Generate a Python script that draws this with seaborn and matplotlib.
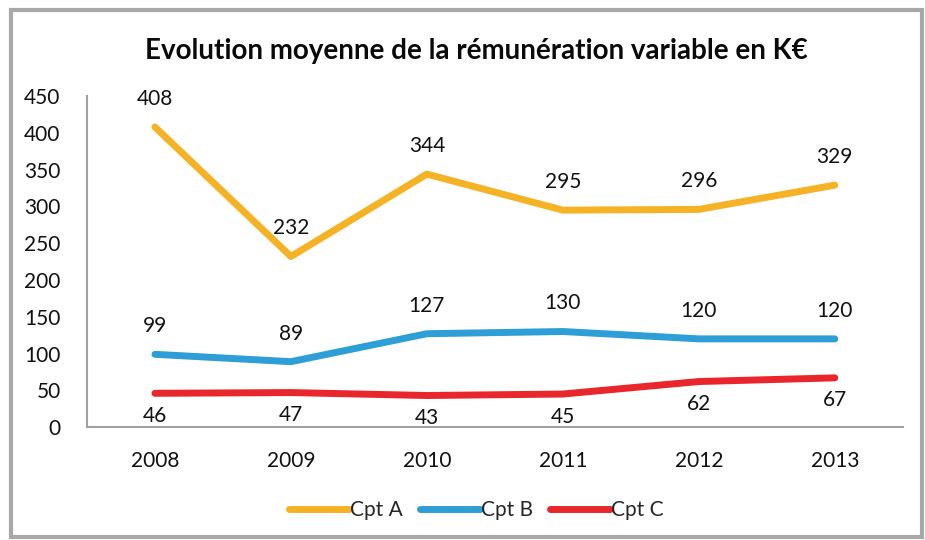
import matplotlib
matplotlib.use('Agg')
import matplotlib.pyplot as plt
import pandas as pd
import seaborn as sns
from matplotlib.patches import Rectangle

# Data
years = ['2008', '2009', '2010', '2011', '2012', '2013']
cpt_a = [408, 232, 344, 295, 296, 329]
cpt_b = [99, 89, 127, 130, 120, 120]
cpt_c = [46, 47, 43, 45, 62, 67]
series_names = ['Cpt A', 'Cpt B', 'Cpt C']
title = 'Evolution moyenne de la rémunération variable en K€'

colors = {'Cpt A': '#F5B224', 'Cpt B': '#2E9ED6', 'Cpt C': '#E8262B'}
label_side = {'Cpt A': 'above', 'Cpt B': 'above', 'Cpt C': 'below'}

df = pd.DataFrame({'year': years * 3,
                   'value': cpt_a + cpt_b + cpt_c,
                   'serie': [s for s in series_names for _ in years]})

sns.set_theme(style='white')
plt.rcParams['font.family'] = ['Lato', 'DejaVu Sans']

fig = plt.figure(figsize=(9.25, 5.4), dpi=100)
ax = fig.add_axes([0.094, 0.209, 0.882, 0.613])

# outer chart frame
fig.patches.append(Rectangle((0.012, 0.006), 0.985, 0.976, transform=fig.transFigure,
                             fill=False, edgecolor='#A8A8A8', linewidth=3))

sns.lineplot(data=df, x='year', y='value', hue='serie', palette=colors,
             linewidth=5, ax=ax, sort=False, legend=True)
for line in ax.lines:
    line.set_solid_capstyle('round')
    line.set_solid_joinstyle('round')

# data labels
for name, vals in zip(series_names, [cpt_a, cpt_b, cpt_c]):
    for i, v in enumerate(vals):
        if label_side[name] == 'above':
            ax.annotate(str(v), (i, v), xytext=(0, 13), textcoords='offset points',
                        ha='center', va='bottom', fontsize=15, color='#111111')
        else:
            ax.annotate(str(v), (i, v), xytext=(0, -9), textcoords='offset points',
                        ha='center', va='top', fontsize=15, color='#111111')

ax.set_xlim(-0.5, 5.5)
ax.set_ylim(0, 450)
ax.set_yticks(range(0, 451, 50))
ax.set_xlabel('')
ax.set_ylabel('')
ax.tick_params(axis='both', labelsize=15, colors='#111111', length=0)
ax.tick_params(axis='x', pad=17)
ax.tick_params(axis='y', pad=19)

for side in ['top', 'right']:
    ax.spines[side].set_visible(False)
for side in ['left', 'bottom']:
    ax.spines[side].set_color('#A0A0A0')
    ax.spines[side].set_linewidth(1.5)

fig.text(0.515, 0.905, title, ha='center', va='center', fontsize=20, fontweight='bold',
         color='#0A0A0A')

handles, labels = ax.get_legend_handles_labels()
ax.legend(handles, labels, loc='center', bbox_to_anchor=(0.515, 0.055),
          bbox_transform=fig.transFigure, ncol=3, frameon=False, fontsize=15,
          handlelength=2.9, handletextpad=0.05, columnspacing=0.8)

fig.savefig('out.png', dpi=100)
